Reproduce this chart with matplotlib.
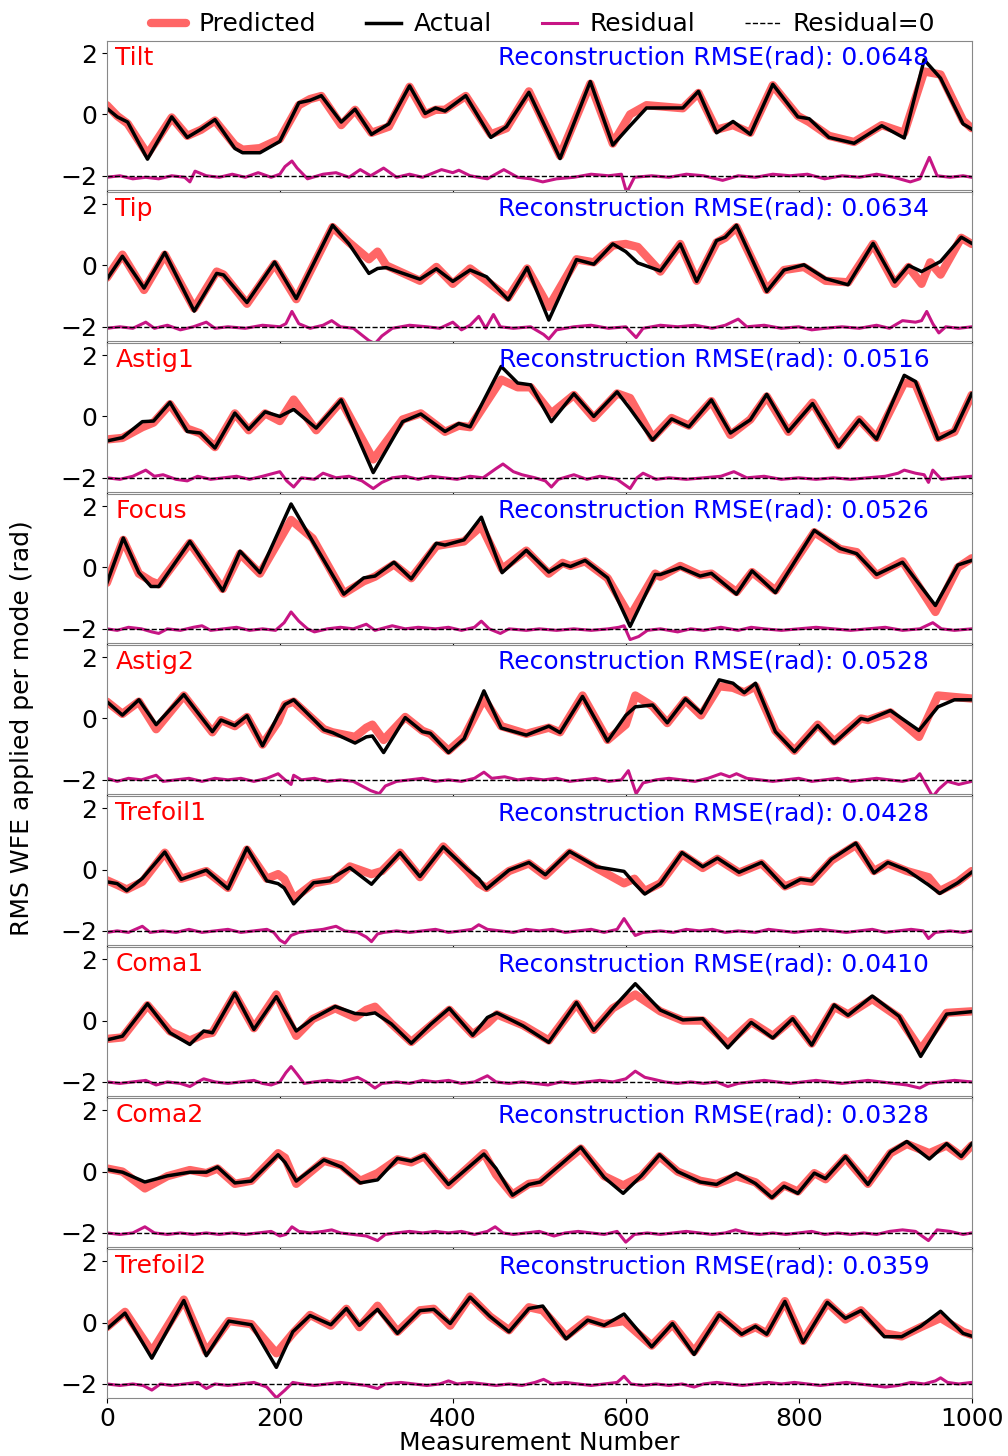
import numpy as np
import matplotlib
matplotlib.use('Agg')
import matplotlib.pyplot as plt

modes = ['Tilt', 'Tip', 'Astig1', 'Focus', 'Astig2', 'Trefoil1', 'Coma1', 'Coma2', 'Trefoil2']
rmse = [0.0648, 0.0634, 0.0516, 0.0526, 0.0528, 0.0428, 0.0410, 0.0328, 0.0359]

tilt = [(0,0.2,0.3),(12,-0.08,-0.05),(24,-0.25,-0.3),(47,-1.46,-1.3),(75,-0.08,-0.1),(93,-0.75,-0.7),
        (109,-0.48,-0.5),(125,-0.17,-0.2),(148,-1.11,-1.0),(157,-1.25,-1.15),(177,-1.25,-1.1),(200,-0.88,-0.8),
        (222,0.38,0.3),(235,0.46,0.5),(248,0.61,0.6),(271,-0.25,-0.35),(287,0.17,0.15),(306,-0.65,-0.6),
        (326,-0.31,-0.4),(350,0.93,0.9),(368,0.03,0.0),(380,0.21,0.15),(391,0.11,0.15),(415,0.61,0.6),
        (444,-0.75,-0.65),(462,-0.4,-0.45),(488,0.72,0.75),(511,-0.65,-0.6),(524,-1.44,-1.35),(559,1.07,1.0),
        (585,-1.0,-0.95),(605,-0.37,0.0),(624,0.21,0.3),(666,0.21,0.2),(684,0.75,0.7),(705,-0.6,-0.5),
        (724,-0.23,-0.35),(744,-0.65,-0.6),(770,0.98,0.95),(799,-0.08,-0.05),(812,-0.14,-0.25),(835,-0.75,-0.7),
        (864,-0.94,-0.9),(896,-0.37,-0.35),(922,-0.77,-0.6),(945,1.78,1.4),(964,1.18,1.3),(990,-0.31,-0.2),
        (1000,-0.48,-0.45)]
tip = [(0,-0.45,-0.4),(18,0.3,0.35),(43,-0.74,-0.8),(67,0.42,0.35),(101,-1.49,-1.4),(127,-0.26,-0.2),
       (135,-0.31,-0.3),(162,-1.21,-1.25),(194,0.11,0.05),(219,-1.08,-1.1),(261,1.31,1.25),(280,0.70,0.75),
       (303,-0.26,0.2),(313,-0.1,0.45),(323,-0.07,0.0),(362,-0.45,-0.5),(381,-0.11,-0.05),(400,-0.52,-0.6),
       (420,-0.15,-0.1),(439,-0.37,-0.5),(464,-1.12,-1.05),(486,-0.07,-0.1),(511,-1.78,-1.35),(543,0.19,0.2),
       (563,0.04,0.1),(585,0.70,0.65),(600,0.45,0.7),(614,0.08,0.6),(640,-0.18,-0.2),(663,0.70,0.7),
       (682,-0.52,-0.5),(705,0.81,0.75),(715,0.92,0.9),(728,1.31,1.25),(763,-0.85,-0.8),(783,-0.15,-0.15),
       (806,0.02,-0.05),(831,-0.43,-0.5),(857,-0.63,-0.55),(886,0.72,0.7),(911,-0.54,-0.6),(927,0.0,-0.05),
       (942,-0.2,-0.6),(952,-0.05,0.1),(964,0.13,-0.3),(988,0.92,0.9),(1000,0.72,0.7)]
astig1 = [(0,-0.8,-0.75),(18,-0.69,-0.7),(41,-0.17,-0.35),(54,-0.15,-0.2),(73,0.46,0.4),(93,-0.49,-0.4),
          (108,-0.54,-0.55),(125,-1.03,-1.0),(148,0.11,0.1),(164,-0.42,-0.45),(183,0.15,0.1),(200,0.0,-0.15),
          (216,0.23,0.55),(242,-0.38,-0.45),(271,0.54,0.5),(308,-1.83,-1.4),(342,-0.17,-0.1),(363,0.08,0.1),
          (391,-0.49,-0.5),(407,-0.23,-0.3),(420,-0.34,-0.35),(456,1.63,1.2),(475,1.09,0.95),(490,1.03,0.95),
          (514,-0.17,0.1),(540,0.74,0.7),(563,0.0,-0.05),(590,0.8,0.75),(605,0.25,0.6),(631,-0.77,-0.7),
          (653,-0.08,-0.05),(673,-0.34,-0.3),(699,0.54,0.5),(721,-0.54,-0.6),(744,-0.11,-0.1),(763,0.72,0.65),
          (788,-0.49,-0.5),(816,0.42,0.45),(846,-0.99,-0.95),(870,-0.11,-0.1),(890,-0.74,-0.7),(922,1.34,1.1),
          (935,1.14,1.05),(961,-0.74,-0.7),(980,-0.46,-0.5),(1000,0.74,0.7)]
focus = [(0,-0.51,-0.5),(19,0.96,0.9),(37,-0.17,-0.2),(51,-0.62,-0.45),(60,-0.62,-0.55),(96,0.85,0.8),
         (134,-0.76,-0.7),(154,0.53,0.45),(177,-0.17,-0.2),(213,2.07,1.55),(238,0.85,0.95),(251,0.23,0.3),
         (274,-0.87,-0.85),(297,-0.34,-0.45),(310,-0.28,-0.3),(332,0.17,0.1),(352,-0.37,-0.35),(381,0.79,0.7),
         (391,0.73,0.75),(413,0.9,0.85),(433,1.64,1.35),(457,-0.17,-0.05),(485,0.56,0.55),(511,-0.15,-0.2),
         (527,0.11,0.15),(536,0.03,0.05),(553,0.23,0.2),(579,-0.34,-0.35),(605,-1.92,-1.6),(634,-0.23,-0.2),
         (640,-0.23,-0.3),(663,0.0,0.05),(686,-0.28,-0.25),(699,-0.19,-0.2),(728,-0.87,-0.8),(746,-0.11,-0.15),
         (773,-0.82,-0.75),(818,1.21,1.15),(848,0.62,0.6),(867,0.45,0.5),(890,-0.23,-0.25),(920,0.17,0.2),
         (958,-1.24,-1.45),(984,0.08,0.0),(1000,0.23,0.3)]
astig2 = [(0,0.55,0.55),(18,0.11,0.15),(37,0.61,0.55),(57,-0.2,-0.35),(89,0.78,0.75),(122,-0.43,-0.45),
          (132,-0.05,-0.05),(148,-0.23,-0.25),(162,0.09,0.05),(180,-0.89,-0.85),(198,0.1,-0.1),(206,0.46,0.45),
          (216,0.61,0.55),(251,-0.37,-0.35),(261,-0.46,-0.45),(287,-0.8,-0.6),(300,-0.6,-0.3),(307,-0.57,-0.2),
          (320,-1.11,-0.7),(345,0.03,0.05),(365,-0.43,-0.4),(374,-0.48,-0.5),(395,-1.11,-1.05),(413,-0.66,-0.6),
          (436,0.9,0.65),(456,-0.31,-0.25),(485,-0.54,-0.5),(511,-0.25,-0.3),(524,-0.46,-0.45),(550,0.72,0.75),
          (579,-0.74,-0.7),(600,0.1,-0.2),(611,0.38,0.75),(631,0.44,0.4),(648,-0.14,-0.15),(669,0.64,0.6),
          (687,0.18,0.1),(708,1.26,1.05),(724,1.15,1.0),(737,0.84,0.85),(750,1.15,1.05),(773,-0.43,-0.4),
          (795,-1.08,-1.05),(822,-0.23,-0.2),(841,-0.8,-0.75),(872,0.0,0.0),(880,-0.05,-0.05),(906,0.26,0.2),
          (939,-0.39,-0.6),(961,0.38,0.75),(980,0.61,0.7),(1000,0.61,0.65)]
trefoil1 = [(0,-0.4,-0.35),(12,-0.46,-0.5),(23,-0.69,-0.65),(41,-0.29,-0.4),(67,0.57,0.55),(86,-0.32,-0.3),
            (115,-0.02,-0.05),(140,-0.63,-0.6),(162,0.71,0.65),(185,-0.37,-0.3),(198,-0.46,-0.15),(205,-0.6,-0.3),
            (216,-1.12,-0.95),(239,-0.43,-0.45),(258,-0.37,-0.35),(265,-0.2,-0.3),(281,0.06,0.1),(306,-0.48,-0.15),
            (318,-0.1,-0.05),(339,0.55,0.55),(362,-0.23,-0.25),(389,0.74,0.75),(417,0.0,-0.05),(430,-0.3,-0.45),
            (439,-0.63,-0.6),(465,-0.02,-0.05),(488,0.23,0.2),(507,-0.17,-0.2),(535,0.59,0.55),(566,0.09,0.05),
            (598,-0.06,-0.45),(610,-0.45,-0.3),(622,-0.8,-0.7),(640,-0.46,-0.45),(665,0.55,0.5),(689,0.09,0.05),
            (706,0.37,0.35),(731,-0.09,-0.1),(757,0.23,0.2),(784,-0.59,-0.55),(802,-0.32,-0.35),(815,-0.37,-0.4),
            (838,0.34,0.3),(866,0.86,0.8),(887,-0.11,-0.05),(903,0.23,0.2),(925,-0.02,-0.05),(950,-0.5,-0.25),
            (963,-0.78,-0.7),(984,-0.43,-0.4),(1000,-0.09,-0.05)]
coma1 = [(0,-0.63,-0.6),(18,-0.51,-0.55),(47,0.55,0.5),(73,-0.4,-0.35),(96,-0.78,-0.65),(112,-0.34,-0.45),
         (122,-0.4,-0.4),(148,0.89,0.85),(170,-0.29,-0.25),(196,0.78,0.85),(210,0.1,0.0),(219,-0.34,-0.5),
         (238,0.06,0.05),(264,0.46,0.4),(287,0.23,0.1),(300,0.2,0.35),(310,0.25,0.45),(329,-0.11,-0.1),
         (352,-0.74,-0.7),(375,-0.11,-0.15),(396,0.4,0.35),(423,-0.48,-0.45),(440,0.1,-0.1),(451,0.25,0.2),
         (481,-0.17,-0.15),(511,-0.71,-0.65),(543,0.59,0.55),(563,-0.32,-0.3),(585,0.4,0.4),(611,1.2,0.85),
         (640,0.34,0.3),(666,0.02,0.0),(689,0.06,0.0),(718,-0.89,-0.75),(745,-0.06,-0.05),(770,-0.57,-0.5),
         (793,0.06,0.05),(815,-0.8,-0.75),(841,0.51,0.45),(857,0.17,0.2),(885,0.8,0.7),(916,0.14,0.1),
         (941,-1.17,-0.95),(971,0.21,0.25),(1000,0.29,0.3)]
coma2 = [(0,0.07,0.1),(18,-0.02,0.0),(44,-0.34,-0.55),(70,-0.14,-0.15),(96,-0.02,0.05),(115,-0.02,-0.05),
         (128,0.15,0.1),(148,-0.37,-0.4),(167,-0.31,-0.3),(198,0.55,0.6),(206,0.3,0.45),(219,-0.31,-0.4),
         (251,0.38,0.35),(271,0.15,0.2),(293,-0.37,-0.3),(313,-0.27,-0.05),(336,0.43,0.4),(352,0.34,0.3),
         (367,0.53,0.5),(395,-0.42,-0.45),(436,0.57,0.6),(450,0.1,-0.1),(469,-0.77,-0.75),(488,-0.42,-0.4),
         (501,-0.34,-0.35),(524,0.21,0.2),(548,0.8,0.75),(575,-0.19,-0.15),(597,-0.71,-0.45),(618,-0.14,-0.15),
         (639,0.55,0.5),(660,0.0,0.0),(686,-0.34,-0.3),(705,-0.42,-0.4),(728,-0.05,-0.15),(750,-0.39,-0.35),
         (769,-0.85,-0.8),(783,-0.48,-0.45),(799,-0.71,-0.65),(818,-0.05,-0.05),(831,-0.23,-0.25),(854,0.49,0.45),
         (880,-0.42,-0.4),(906,0.64,0.6),(925,0.98,0.9),(951,0.41,0.6),(971,0.91,0.85),(988,0.49,0.5),
         (1000,0.91,0.85)]
trefoil2 = [(0,-0.21,-0.15),(21,0.31,0.35),(52,-1.16,-0.95),(89,0.72,0.75),(115,-1.08,-0.95),(141,0.05,0.05),
            (167,-0.07,-0.05),(196,-1.46,-1.0),(215,-0.3,-0.35),(235,0.23,0.25),(259,-0.07,-0.1),(277,0.46,0.45),
            (292,-0.09,-0.15),(313,0.43,0.55),(336,-0.35,-0.3),(362,0.39,0.4),(378,0.43,0.45),(397,-0.03,-0.1),
            (420,0.83,0.85),(443,0.2,0.2),(465,-0.3,-0.25),(488,0.46,0.5),(504,0.54,0.4),(531,-0.53,-0.45),
            (556,0.08,0.1),(575,-0.09,-0.05),(598,0.28,0.05),(630,-0.79,-0.75),(654,-0.03,-0.05),(679,-1.04,-0.95),
            (708,0.25,0.25),(734,-0.38,-0.35),(750,-0.12,-0.15),(763,-0.38,-0.35),(784,0.69,0.7),(805,-0.65,-0.6),
            (833,0.66,0.65),(854,0.14,0.1),(872,0.39,0.4),(899,-0.46,-0.35),(919,-0.46,-0.45),(941,-0.12,-0.15),
            (964,0.37,0.15),(990,-0.35,-0.3),(1000,-0.44,-0.4)]

tilt_res = [(0,-0.05),(15,0.0),(30,-0.1),(45,-0.05),(60,-0.1),(75,0.0),(90,-0.05),(96,-0.2),(102,0.15),(115,0.0),
            (130,-0.05),(145,0.05),(160,-0.05),(175,0.1),(190,-0.05),(200,0.05),(206,0.3),(214,0.48),(220,0.25),
            (232,-0.1),(250,0.05),(265,0.1),(280,-0.05),(293,0.2),(305,0.0),(320,0.25),(335,-0.05),(350,0.05),
            (365,-0.05),(387,0.2),(400,0.1),(407,0.18),(420,0.0),(440,-0.1),(459,0.2),(475,-0.05),(490,-0.1),
            (504,-0.2),(520,-0.1),(540,-0.05),(560,0.05),(580,0.0),(595,0.05),(601,-0.55),(610,-0.05),(630,0.0),
            (650,-0.05),(670,0.05),(690,0.0),(712,-0.15),(730,0.0),(750,-0.05),(770,0.05),(790,0.0),(810,0.05),
            (830,-0.1),(850,0.0),(870,-0.05),(890,0.05),(910,-0.05),(929,-0.2),(940,-0.1),(951,0.6),(960,0.0),
            (975,-0.05),(990,0.0),(1000,-0.05)]
tip_res = [(0,-0.05),(15,0.0),(30,-0.05),(45,0.15),(55,-0.05),(70,0.05),(85,-0.1),(100,0.0),(115,0.15),(125,-0.05),
           (140,0.0),(160,-0.05),(180,0.05),(200,0.0),(207,0.1),(214,0.5),(222,0.1),(235,-0.05),(250,0.05),
           (260,0.2),(270,0.0),(285,-0.05),(303,-0.45),(310,-0.55),(318,-0.3),(330,-0.05),(350,0.05),(370,0.0),
           (385,-0.05),(400,0.15),(410,-0.1),(420,0.05),(430,0.34),(438,-0.05),(447,0.4),(455,0.0),(470,-0.05),
           (490,0.0),(505,-0.25),(511,-0.4),(520,-0.1),(540,0.0),(560,0.05),(580,-0.05),(600,0.0),(612,-0.35),
           (620,-0.05),(640,0.05),(660,0.0),(680,0.05),(700,-0.05),(715,0.05),(730,0.25),(740,0.0),(760,0.05),
           (780,-0.05),(800,0.0),(815,-0.1),(830,-0.05),(850,0.0),(870,-0.05),(890,0.05),(905,-0.05),(920,0.2),
           (935,0.15),(942,0.2),(948,0.5),(955,0.1),(962,-0.2),(970,0.0),(985,-0.05),(1000,0.0)]
astig1_res = [(0,0.0),(15,-0.05),(30,0.05),(45,0.25),(55,0.05),(65,0.1),(80,-0.05),(93,-0.1),(105,0.05),(120,-0.05),
              (135,0.0),(150,0.05),(165,-0.05),(180,0.05),(200,0.2),(208,-0.1),(216,-0.3),(225,0.0),(240,-0.05),
              (250,0.15),(265,0.0),(280,0.05),(295,-0.1),(308,-0.35),(318,-0.15),(330,0.0),(345,0.05),(360,-0.05),
              (375,0.05),(390,0.0),(405,-0.05),(420,0.05),(435,0.0),(450,0.3),(458,0.45),(470,0.2),(480,0.1),
              (495,0.0),(507,-0.1),(514,-0.3),(522,-0.05),(540,0.1),(555,-0.05),(570,0.05),(590,-0.05),(605,-0.35),
              (613,0.0),(620,0.15),(635,-0.05),(650,0.0),(670,-0.05),(690,0.0),(710,0.05),(725,0.2),(740,0.0),
              (760,0.05),(780,-0.05),(800,0.0),(820,-0.05),(840,0.0),(860,-0.05),(880,0.0),(900,0.05),(915,0.15),
              (922,0.25),(935,0.15),(945,0.1),(950,-0.15),(955,0.25),(965,-0.05),(980,0.0),(1000,0.05)]
focus_res = [(0,0.0),(12,-0.05),(25,0.05),(40,0.0),(52,-0.1),(60,-0.15),(70,0.0),(85,-0.05),(100,0.05),(110,0.1),
             (120,-0.05),(135,0.0),(150,0.05),(165,-0.05),(180,0.0),(195,-0.05),(205,0.2),(213,0.55),(222,0.25),
             (232,0.0),(240,-0.1),(255,0.0),(270,0.05),(285,0.0),(300,0.15),(310,-0.05),(330,0.1),(345,0.0),
             (360,0.05),(380,0.0),(395,0.05),(410,-0.05),(425,0.05),(433,0.25),(442,0.0),(455,-0.15),(465,0.0),
             (485,-0.05),(500,0.0),(520,-0.05),(540,0.0),(560,-0.05),(580,0.0),(592,0.05),(598,0.1),(605,-0.35),
             (615,-0.25),(625,-0.05),(640,0.0),(660,-0.1),(675,0.0),(690,-0.05),(710,0.05),(730,-0.05),(745,0.05),
             (760,0.0),(780,-0.05),(800,0.0),(820,0.05),(840,0.0),(860,-0.05),(880,0.0),(900,0.05),(920,-0.05),
             (940,0.0),(955,0.2),(965,0.0),(980,-0.05),(1000,0.0)]
astig2_res = [(0,0.05),(12,-0.05),(25,0.05),(40,0.0),(57,0.15),(65,-0.05),(80,0.0),(95,0.05),(110,-0.05),(125,0.05),
              (140,0.0),(155,0.05),(170,-0.05),(185,0.05),(198,0.2),(206,0.0),(213,-0.15),(216,0.15),(225,0.0),
              (240,0.05),(255,-0.05),(270,0.0),(285,-0.05),(295,-0.2),(305,-0.35),(315,-0.45),(322,-0.2),(335,-0.05),
              (350,0.0),(365,0.05),(380,-0.05),(395,0.0),(410,-0.05),(425,0.05),(436,0.25),(445,0.05),(460,0.1),
              (475,0.0),(490,0.05),(505,0.0),(520,0.05),(535,-0.05),(550,0.0),(565,0.05),(580,-0.05),(595,0.0),
              (603,0.3),(612,-0.45),(620,-0.1),(635,0.0),(650,0.05),(665,0.0),(680,-0.05),(695,0.05),(710,0.2),
              (720,0.1),(728,0.2),(740,0.05),(755,0.0),(770,-0.05),(785,0.0),(800,0.05),(815,-0.05),(830,0.0),
              (845,0.05),(860,-0.05),(875,0.0),(890,0.05),(905,0.0),(920,-0.05),(935,0.05),(940,0.2),(948,-0.2),
              (955,-0.55),(962,-0.3),(972,-0.05),(985,-0.15),(1000,-0.05)]
trefoil1_res = [(0,-0.05),(12,0.0),(25,-0.05),(41,0.15),(50,-0.05),(65,0.0),(80,-0.05),(95,0.05),(110,-0.05),
                (125,0.0),(140,0.05),(155,-0.05),(170,0.0),(185,0.05),(193,-0.05),(200,-0.3),(206,-0.4),(213,-0.15),
                (222,-0.05),(235,0.0),(250,0.05),(265,0.15),(275,0.0),(290,-0.05),(300,-0.2),(306,-0.35),(313,-0.1),
                (320,-0.05),(335,0.0),(350,-0.05),(365,0.0),(380,0.05),(395,-0.05),(410,0.0),(422,0.05),(430,0.2),
                (440,0.05),(455,0.0),(470,-0.05),(485,0.05),(500,0.0),(515,0.05),(530,-0.05),(545,0.0),(560,0.05),
                (575,-0.05),(590,0.05),(598,0.4),(605,0.1),(611,-0.15),(620,-0.05),(640,0.0),(655,-0.05),(670,0.05),
                (685,0.0),(700,0.05),(715,-0.05),(730,0.0),(750,-0.05),(765,0.05),(780,0.0),(795,-0.05),(810,0.0),
                (825,0.05),(840,0.0),(855,-0.05),(870,0.0),(885,0.05),(900,-0.05),(915,0.0),(930,0.05),(944,0.0),
                (950,-0.25),(958,-0.05),(975,0.0),(990,-0.05),(1000,0.0)]
coma1_res = [(0,0.0),(15,-0.05),(30,0.0),(45,0.05),(57,-0.1),(70,0.0),(85,-0.05),(96,-0.15),(105,0.0),(112,0.1),
             (125,0.0),(140,-0.05),(155,0.0),(170,0.05),(180,-0.05),(190,-0.1),(200,0.0),(207,0.3),(213,0.5),
             (220,0.25),(228,-0.05),(240,0.0),(255,0.05),(270,0.0),(290,0.15),(300,0.0),(310,-0.2),(318,-0.05),
             (335,0.0),(350,-0.05),(365,0.05),(380,0.0),(395,0.05),(410,-0.05),(425,0.0),(440,0.2),(450,0.0),
             (465,-0.05),(480,0.0),(495,-0.05),(510,-0.1),(525,0.0),(540,-0.05),(555,0.0),(570,0.05),(585,0.0),
             (600,0.1),(611,0.35),(622,0.15),(630,0.1),(645,0.0),(660,-0.05),(675,0.0),(690,-0.05),(705,0.0),
             (718,-0.15),(730,-0.05),(745,0.0),(760,0.05),(775,0.0),(790,-0.05),(805,0.0),(820,0.05),(835,0.0),
             (850,-0.05),(865,0.0),(880,0.05),(895,0.0),(910,-0.05),(925,-0.1),(940,-0.2),(950,-0.05),(965,0.0),
             (980,0.05),(1000,0.0)]
coma2_res = [(0,0.0),(15,-0.05),(30,0.0),(44,0.2),(55,0.0),(70,-0.05),(85,0.0),(100,-0.05),(115,0.0),(130,-0.05),
             (145,0.0),(160,-0.05),(175,0.0),(190,0.05),(200,-0.1),(207,-0.05),(214,0.2),(222,0.05),(235,0.0),
             (250,0.05),(260,0.1),(270,0.0),(285,-0.05),(300,-0.1),(313,-0.25),(322,-0.05),(335,0.0),(350,0.05),
             (365,0.0),(380,0.05),(395,0.0),(410,0.05),(425,-0.05),(440,0.05),(449,0.2),(458,0.0),(470,-0.05),
             (485,0.0),(500,0.05),(517,-0.1),(530,0.0),(545,0.05),(560,0.0),(575,-0.05),(590,0.05),(600,-0.3),
             (610,-0.05),(625,0.0),(640,-0.05),(655,0.0),(670,0.05),(685,0.0),(700,-0.05),(715,0.0),(727,0.1),
             (740,0.0),(755,-0.05),(770,0.0),(785,-0.05),(800,0.0),(815,0.05),(830,-0.05),(845,0.0),(860,-0.05),
             (875,0.0),(890,-0.05),(905,0.05),(920,0.1),(935,0.05),(950,-0.25),(960,0.1),(975,0.05),(990,-0.05),
             (1000,0.0)]
trefoil2_res = [(0,0.0),(15,-0.05),(30,0.0),(42,-0.05),(52,-0.2),(62,0.0),(75,-0.05),(90,0.0),(105,0.05),
                (115,-0.15),(125,0.0),(140,-0.05),(155,0.0),(170,0.05),(185,-0.1),(196,-0.45),(206,-0.2),(215,0.05),
                (225,0.0),(240,-0.05),(255,0.0),(270,0.05),(285,0.0),(300,-0.05),(313,-0.15),(322,0.0),(340,0.05),
                (355,0.0),(370,-0.05),(385,0.0),(395,0.1),(405,0.0),(420,0.05),(435,0.0),(450,-0.05),(465,0.0),
                (480,-0.05),(495,0.05),(505,0.15),(515,0.0),(530,0.05),(545,0.0),(560,-0.05),(575,0.0),(590,0.05),
                (598,0.25),(606,0.0),(620,-0.05),(635,0.0),(650,-0.05),(665,0.0),(679,-0.1),(690,0.0),(705,0.05),
                (720,0.0),(735,-0.05),(750,0.0),(765,0.05),(780,0.0),(795,0.05),(810,0.0),(825,-0.05),(840,0.0),
                (855,0.05),(870,0.0),(885,-0.05),(900,-0.1),(915,-0.05),(930,0.05),(945,0.0),(958,0.1),(964,0.2),
                (972,0.05),(985,0.0),(1000,0.05)]

traces = [tilt, tip, astig1, focus, astig2, trefoil1, coma1, coma2, trefoil2]
residuals = [tilt_res, tip_res, astig1_res, focus_res, astig2_res, trefoil1_res, coma1_res, coma2_res, trefoil2_res]

offset = -2.0  # residual is drawn shifted down to -2

fig, axes = plt.subplots(len(modes), 1, figsize=(10.08, 14.56), dpi=100, sharex=True)
fig.subplots_adjust(left=0.106, right=0.964, top=0.972, bottom=0.040, hspace=0.015)

for i, ax in enumerate(axes):
    x, act, pred = np.array(traces[i]).T
    rx, ry = np.array(residuals[i]).T
    ax.plot(x, pred, color='#FF6666', lw=6, solid_joinstyle='round', solid_capstyle='round', label='Predicted')
    ax.plot(x, act, color='black', lw=2.5, solid_joinstyle='round', label='Actual')
    ax.plot(rx, ry + offset, color='#C71585', lw=2.2, solid_joinstyle='round', label='Residual')
    ax.axhline(offset, color='black', ls='--', lw=1, label='Residual=0')

    ax.set_xlim(0, 1000)
    ax.set_ylim(-2.45, 2.4)
    ax.set_yticks([-2, 0, 2])
    ax.tick_params(axis='both', labelsize=18)
    for s in ax.spines.values():
        s.set_color('#888888')
    ax.text(0.01, 0.885, modes[i], color='red', fontsize=18, transform=ax.transAxes, va='center', ha='left')
    ax.text(0.951, 0.885, 'Reconstruction RMSE(rad): {:.4f}'.format(rmse[i]), color='blue', fontsize=18,
            transform=ax.transAxes, va='center', ha='right')

axes[-1].set_xticks([0, 200, 400, 600, 800, 1000])
axes[-1].set_xlabel('Measurement Number', fontsize=18, labelpad=0)
fig.text(0.022, 0.5, 'RMS WFE applied per mode (rad)', rotation=90, fontsize=18, va='center', ha='center')

h, l = axes[0].get_legend_handles_labels()
fig.legend(h, l, loc='upper center', bbox_to_anchor=(0.539, 1.007), ncol=4, frameon=False, fontsize=18,
           columnspacing=2.0, handlelength=1.4, handletextpad=0.5)

plt.savefig('out.png', dpi=100)
